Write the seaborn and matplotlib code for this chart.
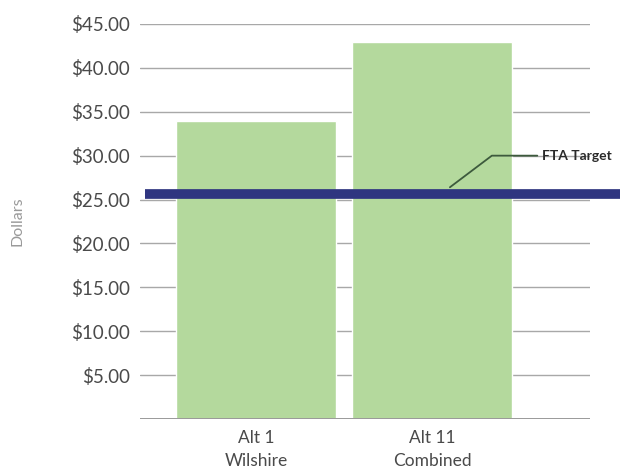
import pandas as pd
import seaborn as sns
import matplotlib.pyplot as plt

# data
alternatives = ["Alt 1\nWilshire", "Alt 11\nCombined"]
cost_per_rider = [34.0, 43.0]
fta_target = 25.6
y_ticks = [5, 10, 15, 20, 25, 30, 35, 40, 45]

sns.set_theme(style="white")
plt.rcParams['font.family'] = ['Lato', 'DejaVu Sans']

df = pd.DataFrame({"alt": alternatives, "cost": cost_per_rider})

fig = plt.figure(figsize=(6.29, 4.75), dpi=100)
ax = fig.add_axes([0.2226, 0.1179, 0.7154, 0.8316])

sns.barplot(data=df, x="alt", y="cost", color="#b4d99d", width=0.91,
            saturation=1, ax=ax, zorder=2)

ax.set_xlim(-0.659, 1.898)
ax.set_ylim(0, 45)
ax.set_yticks(y_ticks)
ax.set_yticklabels([f"${v:.2f}" for v in y_ticks])
for v in y_ticks:
    ax.axhline(v, color="#a8a8a8", lw=1, zorder=1)
ax.axhline(0, color="#9a9a9a", lw=1.4, zorder=3)

for s in ax.spines.values():
    s.set_visible(False)
ax.tick_params(axis="y", length=0, pad=7, labelsize=13.5, labelcolor="#4a4a4a")
ax.tick_params(axis="x", length=0, pad=8, labelsize=12.5, labelcolor="#4a4a4a")
for lbl in ax.get_xticklabels():
    lbl.set_linespacing(1.55)
ax.set_xlabel("")
ax.set_ylabel("Dollars", fontsize=11.5, color="#9a9a9a", labelpad=34)

# target line runs past the grid on the right
ax.axhline(fta_target, xmin=0.012, xmax=1.067, color="#2f3580", lw=7,
           zorder=4, clip_on=False, solid_capstyle="butt")

ax.annotate("FTA Target", xy=(1.102, fta_target + 0.8), xytext=(1.625, 30.0),
            fontsize=10, fontweight="bold", color="#2a2a2a",
            ha="left", va="center", annotation_clip=False,
            arrowprops=dict(arrowstyle="-", color="#3d5a3d", lw=1.3,
                            shrinkA=1, shrinkB=0, relpos=(0, 0.5),
                            connectionstyle="angle,angleA=0,angleB=37,rad=0"),
            zorder=5)

fig.savefig("out.png", dpi=100)
